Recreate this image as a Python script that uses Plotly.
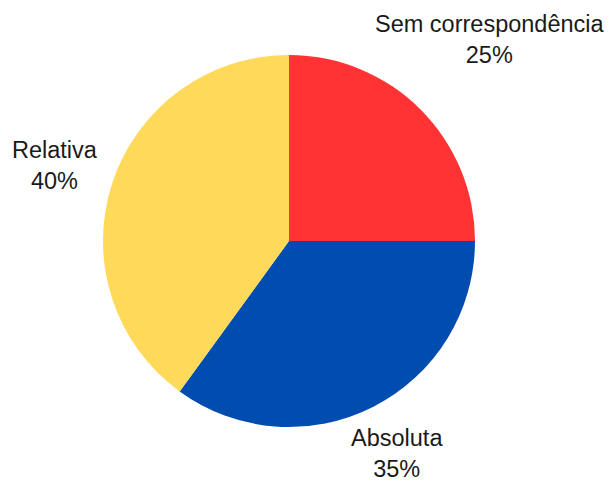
import math
import plotly.graph_objects as go

labels = ["Sem correspondência", "Absoluta", "Relativa"]
values = [25, 35, 40]
colors = ["#FF3333", "#004DAF", "#FFD95A"]

# page has an 8px body margin, so the figure is sized to fit the window
W, H = 606, 473
cx, cy, R = 281, 240, 186   # pie centre (px from left/bottom of figure) and radius
label_dist = [1.53, 1.28, 1.32]  # label radial distance relative to radius

fig = go.Figure(go.Pie(
    labels=labels, values=values, sort=False, direction="clockwise", rotation=0,
    marker=dict(colors=colors, line=dict(width=0)),
    textinfo="none", hoverinfo="label+percent", showlegend=False,
    domain=dict(x=[(cx - R) / W, (cx + R) / W], y=[(cy - R) / H, (cy + R) / H]),
))

total = sum(values)
start = 90.0
annotations = []
for lab, v, f in zip(labels, values, label_dist):
    sweep = 360.0 * v / total
    mid = math.radians(start - sweep / 2)
    start -= sweep
    x = cx + R * f * math.cos(mid)
    y = cy + R * f * math.sin(mid)
    annotations.append(dict(
        x=x / W, y=y / H, xref="paper", yref="paper", showarrow=False,
        text=f"{lab}<br>{round(100 * v / total)}%", align="center",
        xanchor="center", yanchor="middle",
        font=dict(family="Liberation Sans, Arial, sans-serif", size=23.5, color="#1a1a1a"),
    ))

fig.update_layout(
    width=W, height=H, margin=dict(l=0, r=0, t=0, b=0),
    paper_bgcolor="white", plot_bgcolor="white", annotations=annotations,
)
fig.write_html("out.html")
